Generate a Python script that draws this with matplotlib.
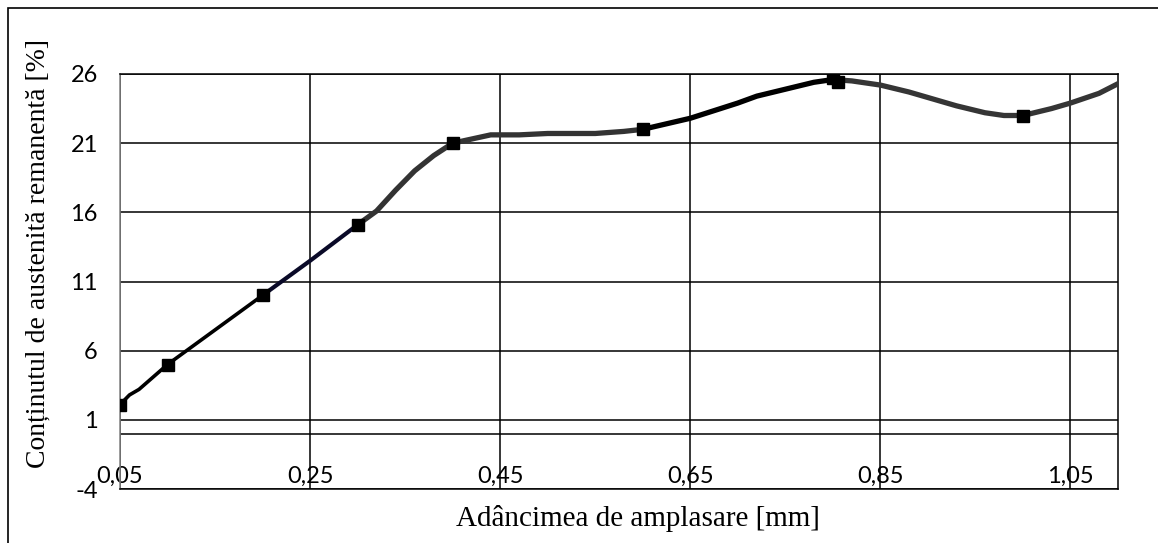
import matplotlib
matplotlib.use("Agg")
import matplotlib.pyplot as plt
from matplotlib.patches import Rectangle

# curve
depth = [0.05, 0.06, 0.07, 0.08, 0.09, 0.10, 0.12, 0.14, 0.16, 0.18, 0.20,
         0.25, 0.30, 0.32, 0.34, 0.36, 0.38, 0.40, 0.42, 0.44, 0.47, 0.50,
         0.55, 0.58, 0.60, 0.65, 0.70, 0.72, 0.75, 0.78, 0.80, 0.82, 0.85,
         0.88, 0.90, 0.93, 0.96, 0.98, 1.00, 1.03, 1.05, 1.08, 1.10]
austenite = [2.1, 2.8, 3.2, 3.8, 4.4, 5.0, 6.0, 7.0, 8.0, 9.0, 10.0,
             12.5, 15.1, 16.1, 17.6, 19.0, 20.1, 21.0, 21.3, 21.6, 21.6, 21.7,
             21.7, 21.85, 22.0, 22.8, 23.9, 24.4, 24.9, 25.4, 25.6, 25.5, 25.2,
             24.7, 24.3, 23.7, 23.2, 23.0, 23.0, 23.5, 23.9, 24.6, 25.3]

# measured points (markers)
depth_pts = [0.05, 0.10, 0.20, 0.30, 0.40, 0.60, 0.80, 0.805, 1.00]
austenite_pts = [2.1, 5.0, 10.0, 15.1, 21.0, 22.0, 25.7, 25.4, 23.0]

xticks = [0.05, 0.25, 0.45, 0.65, 0.85, 1.05]
xtick_labels = ["0,05", "0,25", "0,45", "0,65", "0,85", "1,05"]
yticks = [-4, 1, 6, 11, 16, 21, 26]
ytick_labels = ["-4", "1", "6", "11", "16", "21", "26"]

# pieces of the curve are drawn in slightly different styles
seg_bounds = [0.05, 0.20, 0.30, 0.60, 0.80, 1.10]
seg_colors = ["#000000", "#0a0a28", "#333333", "#000000", "#353535"]
seg_widths = [2.6, 3.0, 3.8, 3.8, 3.8]

fig = plt.figure(figsize=(11.58, 5.43), dpi=100)
ax = fig.add_axes([120 / 1158, 1 - 489 / 543, 998 / 1158, 415 / 543])

for i in range(len(seg_colors)):
    lo, hi = seg_bounds[i], seg_bounds[i + 1]
    xs = [x for x in depth if lo <= x <= hi]
    ys = [y for x, y in zip(depth, austenite) if lo <= x <= hi]
    ax.plot(xs, ys, color=seg_colors[i], lw=seg_widths[i],
            solid_capstyle="round", solid_joinstyle="round", zorder=3)

ax.plot(depth_pts, austenite_pts, ls="none", marker="s", ms=8,
        color="black", zorder=4)

ax.set_xlim(0.05, 1.10)
ax.set_ylim(-4, 26)
ax.set_xticks(xticks)
ax.set_xticklabels(xtick_labels)
ax.set_yticks(yticks)
ax.set_yticklabels(ytick_labels)
ax.grid(True, color="black", lw=1.1)
ax.axhline(0, color="black", lw=1.1)

for side in ["top", "right", "bottom"]:
    ax.spines[side].set_color("black")
    ax.spines[side].set_linewidth(1.1)
ax.spines["left"].set_color("#808080")
ax.spines["left"].set_linewidth(1.1)

for lab in ax.get_xticklabels() + ax.get_yticklabels():
    lab.set_fontfamily("Lato")
    lab.set_fontsize(17)
ax.tick_params(axis="x", length=0, pad=-17)
ax.tick_params(axis="y", length=0, pad=16)

fig.text(638 / 1158, 1 - 519 / 543, "Adâncimea de amplasare [mm]",
         family="Liberation Serif", size=21, ha="center", va="center")
fig.text(38 / 1158, 1 - 254 / 543, "Conținutul de austenită remanentă [%]",
         family="Liberation Serif", size=20, ha="center", va="center",
         rotation=90)

# outer chart frame (right and bottom edges fall outside the image)
fig.patches.append(Rectangle((8 / 1158, -0.05), 1.0, 1.05 - 8 / 543,
                             transform=fig.transFigure, fill=False,
                             edgecolor="black", lw=1.2))

fig.savefig("out.png", dpi=100)
